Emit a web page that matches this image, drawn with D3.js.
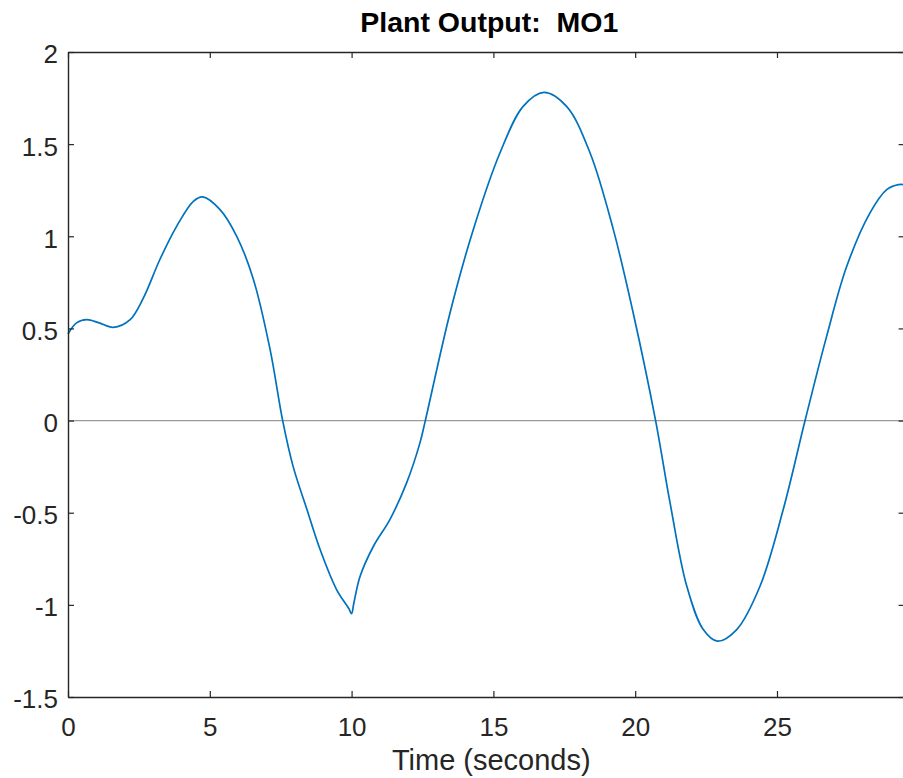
<!DOCTYPE html>
<html>
<head>
<meta charset="utf-8">
<script src="https://cdn.jsdelivr.net/npm/d3@7"></script>
<style>
  html, body { margin: 0; padding: 0; background: #fff; overflow: hidden; }
  svg { display: block; }
  text { font-family: "Liberation Sans", Arial, Helvetica, sans-serif; }
</style>
</head>
<body>
<script>
// ---- data ----
const title = "Plant Output:  MO1";
const xLabel = "Time (seconds)";
const xTicks = [0, 5, 10, 15, 20, 25];
const yTicks = [-1.5, -1, -0.5, 0, 0.5, 1, 1.5, 2];
const timeValues = [0, 0.3, 0.66, 1.1, 1.6, 2.19, 2.66, 3.24, 3.83, 4.42, 4.75, 5.36, 5.95, 6.53, 7.12, 7.57,
  7.94, 8.42, 8.89, 9.47, 9.9, 10.0, 10.08, 10.3, 10.77, 11.35, 11.94, 12.41, 12.6, 13.47, 14.29, 15.23, 16.05, 16.78,
  17.58, 18.41, 19.23, 19.93, 20.72, 21.23, 21.82, 22.4, 22.9, 23.58, 24.4, 25.22, 25.99, 26.75,
  27.46, 28.28, 28.87, 29.28, 29.5];
const outputValues = [0.47, 0.53, 0.548, 0.53, 0.506, 0.548, 0.666, 0.874, 1.054, 1.19, 1.214, 1.145, 1.0, 0.77, 0.39, 0.0,
  -0.25, -0.48, -0.70, -0.917, -1.02, -1.048, -0.99, -0.845, -0.682, -0.537, -0.338, -0.121, 0.0, 0.584, 1.036, 1.452, 1.705, 1.781,
  1.705, 1.452, 1.036, 0.584, 0.0, -0.447, -0.899, -1.134, -1.197, -1.134, -0.899, -0.483, 0.0, 0.457,
  0.837, 1.127, 1.253, 1.28, 1.28];

// ---- layout ----
const W = 903, H = 778;
const L = 68, R = 904.6, T = 52, B = 697;
const axisColor = "#262626";

const svg = d3.select("body").append("svg").attr("width", W).attr("height", H);

const x = d3.scaleLinear().domain([0, 29.5]).range([L, R]);
const y = d3.scaleLinear().domain([-1.5, 2]).range([B, T]);

// zero reference line
svg.append("line")
  .attr("x1", L).attr("x2", R).attr("y1", y(0)).attr("y2", y(0))
  .attr("stroke", "#9a9a9a").attr("stroke-width", 1.2);

// data line
const data = timeValues.map((t, i) => [t, outputValues[i]]);
svg.append("path")
  .datum(data)
  .attr("fill", "none")
  .attr("stroke", "#0072BD")
  .attr("stroke-width", 1.7)
  .attr("stroke-linejoin", "round")
  .attr("d", d3.line().x(d => x(d[0])).y(d => y(d[1])).curve(d3.curveCatmullRom.alpha(0.5)));

// axes (MATLAB style box with inward ticks)
const tickLen = 6;
const fs = 26;
const fmt = d => String(d);
const gB = svg.append("g").attr("transform", `translate(0,${B})`)
  .call(d3.axisBottom(x).tickValues(xTicks).tickSizeInner(-tickLen).tickSizeOuter(0).tickPadding(21).tickFormat(fmt));
const gT = svg.append("g").attr("transform", `translate(0,${T})`)
  .call(d3.axisTop(x).tickValues(xTicks).tickSizeInner(-tickLen).tickSizeOuter(0).tickFormat(""));
const gL = svg.append("g").attr("transform", `translate(${L},0)`)
  .call(d3.axisLeft(y).tickValues(yTicks).tickSizeInner(-tickLen).tickSizeOuter(0).tickPadding(10).tickFormat(fmt));
const gR = svg.append("g").attr("transform", `translate(${R},0)`)
  .call(d3.axisRight(y).tickValues(yTicks).tickSizeInner(-tickLen).tickSizeOuter(0).tickFormat(""));

[gB, gT, gL, gR].forEach(g => {
  g.select(".domain").attr("stroke", axisColor).attr("stroke-width", 1.4);
  g.selectAll(".tick line").attr("stroke", axisColor).attr("stroke-width", 1.2);
  g.selectAll(".tick text").attr("fill", axisColor).attr("font-size", fs)
    .attr("font-family", "'Liberation Sans', Arial, sans-serif");
});
gL.selectAll(".tick text").attr("dy", "0.42em");
gB.selectAll(".tick text").attr("dy", "0.71em");

// title
svg.append("text")
  .attr("x", (L + R) / 2 + 3).attr("y", 32)
  .attr("text-anchor", "middle")
  .attr("font-size", 28.5).attr("font-weight", "bold").attr("fill", "#000")
  .style("white-space", "pre")
  .text(title);

// x label
svg.append("text")
  .attr("x", (L + R) / 2 + 5).attr("y", 770)
  .attr("text-anchor", "middle")
  .attr("font-size", 29).attr("fill", axisColor)
  .text(xLabel);
</script>
</body>
</html>
